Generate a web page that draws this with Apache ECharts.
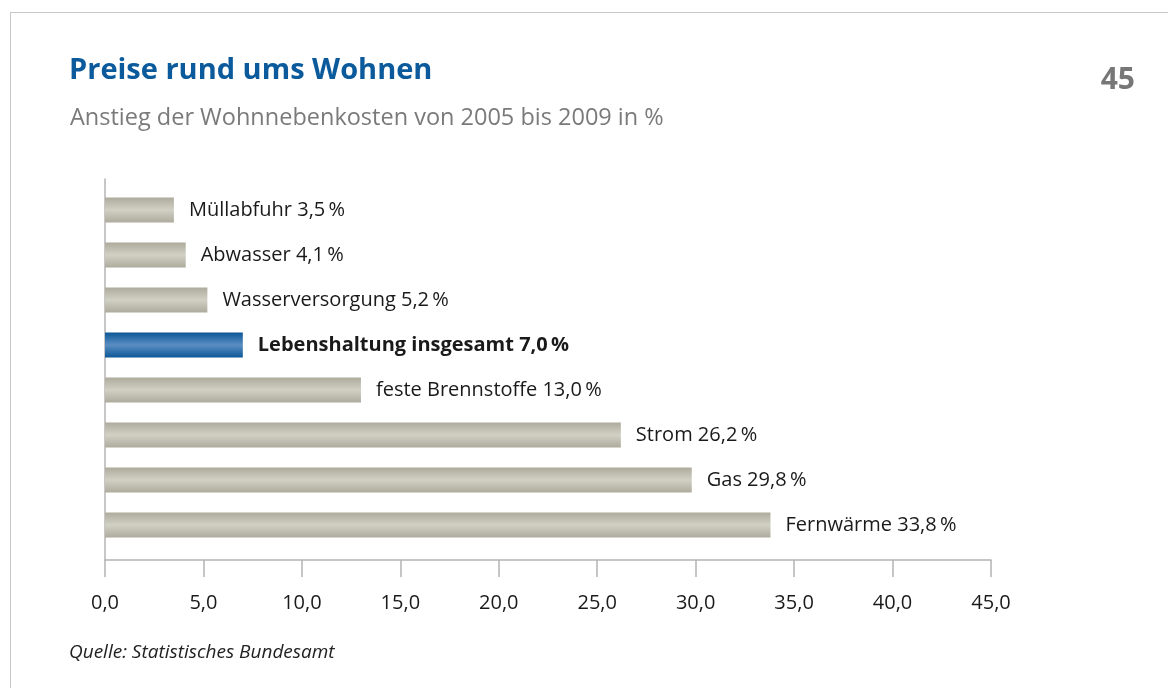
<!DOCTYPE html>
<html lang="de">
<head>
<meta charset="utf-8">
<title>Preise rund ums Wohnen</title>
<script src="https://cdn.jsdelivr.net/npm/echarts@6/dist/echarts.min.js"></script>
<style>
  html, body { margin: 0; padding: 0; background: #fff; }
  #frame {
    position: absolute; left: 10px; top: 12px; width: 1200px; height: 700px;
    border-left: 1.5px solid #c8c8c8; border-top: 1.5px solid #c8c8c8;
  }
  #chart { position: absolute; left: 0; top: 0; width: 1168px; height: 688px; }
</style>
</head>
<body>
<div id="frame"></div>
<div id="chart"></div>
<script>
// Kategorien von oben nach unten
const categories = [
  'Müllabfuhr', 'Abwasser', 'Wasserversorgung', 'Lebenshaltung insgesamt',
  'feste Brennstoffe', 'Strom', 'Gas', 'Fernwärme'
];
// Anstieg 2005–2009 in %
const values = [3.5, 4.1, 5.2, 7.0, 13.0, 26.2, 29.8, 33.8];
// Vergleichswert (hervorgehoben)
const highlight = 'Lebenshaltung insgesamt';
// Achsenbereich
const axisMin = 0, axisMax = 45, axisStep = 5;

const FONT = '"Open Sans", "Noto Sans", sans-serif';
const fmt = v => v.toFixed(1).replace('.', ',');

const grayFill = {
  type: 'linear', x: 0, y: 0, x2: 0, y2: 1,
  colorStops: [
    { offset: 0, color: '#aeab9c' },
    { offset: 0.5, color: '#d0d0c4' },
    { offset: 1, color: '#aeab9c' }
  ]
};
const blueFill = {
  type: 'linear', x: 0, y: 0, x2: 0, y2: 1,
  colorStops: [
    { offset: 0, color: '#0b5797' },
    { offset: 0.5, color: '#5b8ec2' },
    { offset: 1, color: '#0b5797' }
  ]
};

const barData = categories.map((c, i) => {
  const hi = c === highlight;
  return {
    value: values[i],
    itemStyle: { color: hi ? blueFill : grayFill },
    label: {
      fontWeight: hi ? 'bold' : 'normal'
    }
  };
});

const chart = echarts.init(document.getElementById('chart'), null, { renderer: 'canvas' });
chart.setOption({
  animation: false,
  backgroundColor: 'transparent',
  textStyle: { fontFamily: FONT },
  title: [
    {
      text: 'Preise rund ums Wohnen',
      left: 64, top: 51,
      textStyle: { fontFamily: FONT, fontSize: 29, fontWeight: 'bold', color: '#0a5a9c' }
    },
    {
      text: 'Anstieg der Wohnnebenkosten von 2005 bis 2009 in %',
      left: 65, top: 101,
      textStyle: { fontFamily: FONT, fontSize: 23.5, fontWeight: 'normal', color: '#7a7a7a' }
    },
    {
      text: '45',
      right: 28, top: 60,
      textStyle: { fontFamily: FONT, fontSize: 30, fontWeight: 'bold', color: '#777777' }
    },
    {
      text: 'Quelle: Statistisches Bundesamt',
      left: 64, top: 638,
      textStyle: { fontFamily: FONT, fontSize: 19, fontStyle: 'italic', fontWeight: 'normal', color: '#222' }
    }
  ],
  grid: [
    // Balkenbereich
    { left: 105, right: 177, top: 187.5, bottom: 140.5, containLabel: false },
    // Rahmen für die senkrechte Achsenlinie
    { left: 105, right: 177, top: 179, bottom: 128, containLabel: false }
  ],
  xAxis: [
    {
      gridIndex: 0, type: 'value',
      min: axisMin, max: axisMax, interval: axisStep,
      offset: 12.5,
      splitLine: { show: false },
      axisLine: { show: true, lineStyle: { color: '#b4b4b4', width: 1.5 } },
      axisTick: { show: true, length: 17, lineStyle: { color: '#b4b4b4', width: 1.5 } },
      axisLabel: {
        margin: 33, fontSize: 20, color: '#1a1a1a', fontFamily: FONT,
        formatter: v => fmt(v)
      }
    },
    {
      gridIndex: 1, type: 'value', min: axisMin, max: axisMax,
      show: false
    }
  ],
  yAxis: [
    {
      gridIndex: 0, type: 'category', data: categories, inverse: true,
      axisLine: { show: false }, axisTick: { show: false }, axisLabel: { show: false },
      splitLine: { show: false }
    },
    {
      gridIndex: 1, type: 'value', min: 0, max: 1,
      axisLine: { show: true, lineStyle: { color: '#b4b4b4', width: 1.5 } },
      axisTick: { show: false }, axisLabel: { show: false }, splitLine: { show: false }
    }
  ],
  series: [
    {
      type: 'bar',
      xAxisIndex: 0, yAxisIndex: 0,
      data: barData,
      barWidth: 25,
      label: {
        show: true, position: 'right', distance: 15,
        fontFamily: FONT, fontSize: 20, color: '#1a1a1a',
        formatter: p => categories[p.dataIndex] + ' ' + fmt(p.value) + '\u2009%'
      }
    }
  ]
});
</script>
</body>
</html>
